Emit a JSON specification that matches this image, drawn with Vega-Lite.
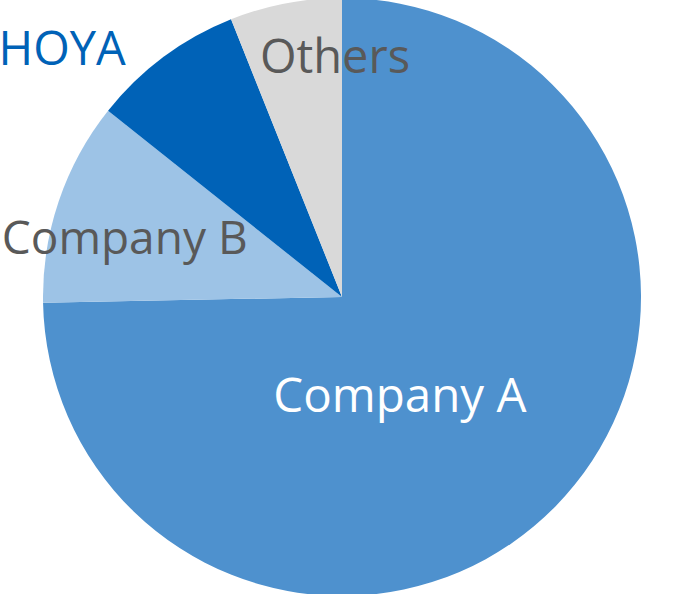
{
  "$schema": "https://vega.github.io/schema/vega-lite/v6.json",
  "width": 684,
  "height": 594,
  "padding": 0,
  "autosize": {"type": "none"},
  "background": "white",
  "config": {"view": {"stroke": null}},
  "data": {"values": [
    {"company": "Company A", "share": 74.7, "rank": 1},
    {"company": "Company B", "share": 11.0, "rank": 2},
    {"company": "HOYA", "share": 8.25, "rank": 3},
    {"company": "Others", "share": 6.05, "rank": 4}
  ]},
  "encoding": {
    "theta": {"field": "share", "type": "quantitative", "stack": true},
    "order": {"field": "rank", "type": "quantitative"}
  },
  "layer": [
    {
      "mark": {"type": "arc", "outerRadius": 299, "stroke": null},
      "encoding": {
        "color": {"field": "company", "type": "nominal", "legend": null,
          "scale": {"domain": ["Company A", "Company B", "HOYA", "Others"],
                    "range": ["#4e91ce", "#9dc3e6", "#0062b7", "#d9d9d9"]}}
      }
    },
    {
      "mark": {"type": "text", "radius": 140, "dx": -42, "dy": 17, "align": "center", "baseline": "alphabetic", "font": "Open Sans", "fontSize": 47.5, "color": "white"},
      "encoding": {"text": {"condition": {"test": "datum.company === 'Company A'", "field": "company"}, "value": ""}}
    },
    {
      "mark": {"type": "text", "radius": 230, "dx": 0.5, "dy": 31, "align": "center", "baseline": "alphabetic", "font": "Open Sans", "fontSize": 46, "color": "#595959"},
      "encoding": {"text": {"condition": {"test": "datum.company === 'Company B'", "field": "company"}, "value": ""}}
    },
    {
      "mark": {"type": "text", "radius": 340, "dx": -77, "dy": 41, "align": "center", "baseline": "alphabetic", "font": "Open Sans", "fontSize": 47, "color": "#0062b7"},
      "encoding": {"text": {"condition": {"test": "datum.company === 'HOYA'", "field": "company"}, "value": ""}}
    },
    {
      "mark": {"type": "text", "radius": 225, "dx": 35.5, "dy": -3, "align": "center", "baseline": "alphabetic", "font": "Open Sans", "fontSize": 47, "color": "#595959"},
      "encoding": {"text": {"condition": {"test": "datum.company === 'Others'", "field": "company"}, "value": ""}}
    }
  ]
}
